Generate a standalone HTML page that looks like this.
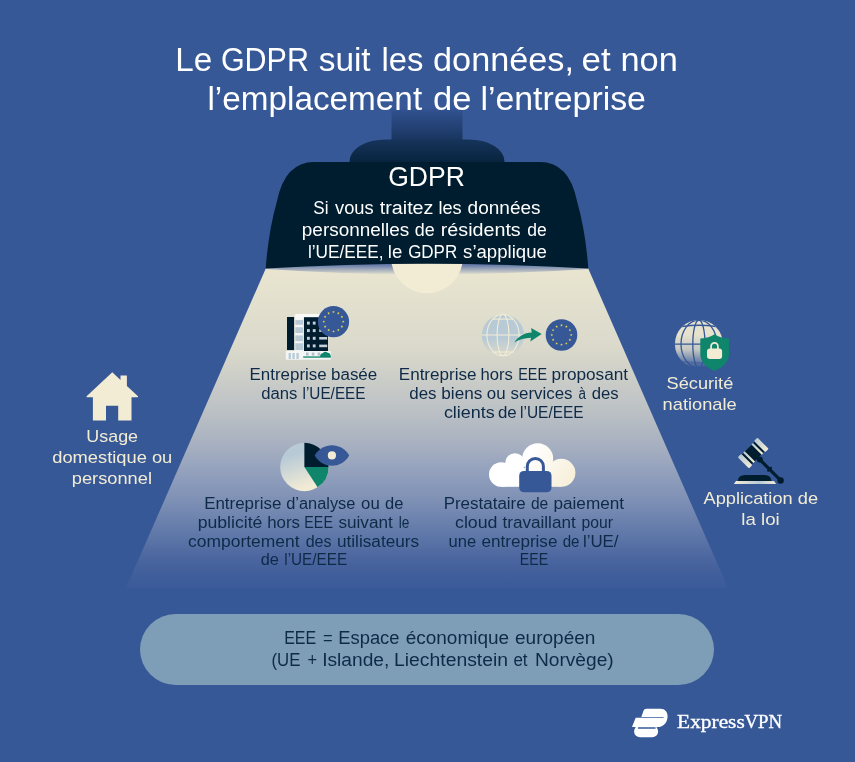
<!DOCTYPE html>
<html lang="fr"><head><meta charset="utf-8"><title>Le GDPR suit les données</title>
<style>
html,body{margin:0;padding:0;background:#365897;}
body{width:855px;height:762px;overflow:hidden;font-family:"Liberation Sans",sans-serif;}
svg{display:block;position:absolute;left:0;top:0;will-change:transform;}
text{white-space:pre;}
</style></head><body>
<svg width="855" height="762" viewBox="0 0 855 762">
<rect width="855" height="762" fill="#365897"/>
<defs>
<linearGradient id="cone" x1="0" y1="268" x2="0" y2="588" gradientUnits="userSpaceOnUse">
<stop offset="0" stop-color="#e9e5d0"/>
<stop offset="0.25" stop-color="#dad9cb"/>
<stop offset="0.45" stop-color="#bbc0c4"/>
<stop offset="0.55" stop-color="#a8b1c1"/>
<stop offset="0.6625" stop-color="#8d9cbb"/>
<stop offset="0.725" stop-color="#7e90b5"/>
<stop offset="0.7875" stop-color="#6c82ae"/>
<stop offset="0.85" stop-color="#5b74a7"/>
<stop offset="0.9125" stop-color="#4a659f"/>
<stop offset="0.96" stop-color="#405e9b"/>
<stop offset="1" stop-color="#3a5a99"/>
</linearGradient>
<linearGradient id="stem" x1="0" y1="108" x2="0" y2="140" gradientUnits="userSpaceOnUse">
<stop offset="0" stop-color="#365897"/><stop offset="0.12" stop-color="#2f4f8c"/><stop offset="1" stop-color="#19355f"/>
</linearGradient>
<linearGradient id="cap" x1="0" y1="139" x2="0" y2="163" gradientUnits="userSpaceOnUse">
<stop offset="0" stop-color="#17345c"/><stop offset="1" stop-color="#07233d"/>
</linearGradient>
<linearGradient id="inner" x1="0" y1="262" x2="0" y2="275" gradientUnits="userSpaceOnUse">
<stop offset="0" stop-color="#3f5c9c"/><stop offset="1" stop-color="#e9e5d0"/>
</linearGradient>
</defs>
<rect x="391.5" y="106" width="71" height="40" fill="url(#stem)"/>
<path d="M349.5 165 V161.4 A36 22 0 0 1 385.5 139.4 H468.5 A36 22 0 0 1 504.5 161.4 V165 Z" fill="url(#cap)"/>
<path d="M266 268 L588 268 L728 588 L126 588 Z" fill="url(#cone)"/>
<path d="M266 268 Q427 256 588 268 L588 269 Q427 280 266 269 Z" fill="url(#inner)"/>
<circle cx="427" cy="257.3" r="36" fill="#f3ecd5"/>
<path d="M265.7 268.5 Q268.3 232 277 201 Q285 162 314 162 H540 Q569 162 577 201 Q585.7 232 588.3 268.5 Q427 259 265.7 268.5 Z" fill="#001d2f"/>
<rect x="140" y="614" width="574" height="71" rx="35.5" fill="#7e9db7"/>
<text y="70.9" font-size="33" fill="#ffffff" font-family="'Liberation Sans', sans-serif" ><tspan x="175.35" textLength="36.99" lengthAdjust="spacingAndGlyphs">Le</tspan> <tspan x="220.90" textLength="88.06" lengthAdjust="spacingAndGlyphs">GDPR</tspan> <tspan x="318.72" textLength="51.92" lengthAdjust="spacingAndGlyphs">suit</tspan> <tspan x="381.49" textLength="41.89" lengthAdjust="spacingAndGlyphs">les</tspan> <tspan x="433.07" textLength="140.95" lengthAdjust="spacingAndGlyphs">données,</tspan> <tspan x="581.55" textLength="29.11" lengthAdjust="spacingAndGlyphs">et</tspan> <tspan x="620.49" textLength="57.36" lengthAdjust="spacingAndGlyphs">non</tspan></text>
<text y="110.1" font-size="33" fill="#ffffff" font-family="'Liberation Sans', sans-serif" ><tspan x="207.46" textLength="214.69" lengthAdjust="spacingAndGlyphs">l’emplacement</tspan> <tspan x="432.96" textLength="38.43" lengthAdjust="spacingAndGlyphs">de</tspan> <tspan x="480.42" textLength="165.53" lengthAdjust="spacingAndGlyphs">l’entreprise</tspan></text>
<text x="388.20" y="186.0" font-size="28" fill="#ffffff" textLength="76.61" lengthAdjust="spacingAndGlyphs" font-family="'Liberation Sans', sans-serif" >GDPR</text>
<text y="213.9" font-size="18" fill="#ffffff" font-family="'Liberation Sans', sans-serif" ><tspan x="313.29" textLength="15.18" lengthAdjust="spacingAndGlyphs">Si</tspan> <tspan x="335.00" textLength="38.66" lengthAdjust="spacingAndGlyphs">vous</tspan> <tspan x="379.73" textLength="53.76" lengthAdjust="spacingAndGlyphs">traitez</tspan> <tspan x="438.47" textLength="23.17" lengthAdjust="spacingAndGlyphs">les</tspan> <tspan x="467.61" textLength="73.00" lengthAdjust="spacingAndGlyphs">données</tspan></text>
<text y="235.8" font-size="18" fill="#ffffff" font-family="'Liberation Sans', sans-serif" ><tspan x="301.82" textLength="107.39" lengthAdjust="spacingAndGlyphs">personnelles</tspan> <tspan x="414.85" textLength="19.92" lengthAdjust="spacingAndGlyphs">de</tspan> <tspan x="440.77" textLength="79.96" lengthAdjust="spacingAndGlyphs">résidents</tspan> <tspan x="527.27" textLength="19.48" lengthAdjust="spacingAndGlyphs">de</tspan></text>
<text y="258.1" font-size="18" fill="#ffffff" font-family="'Liberation Sans', sans-serif" ><tspan x="307.92" textLength="75.54" lengthAdjust="spacingAndGlyphs">l’UE/EEE,</tspan> <tspan x="387.84" textLength="14.45" lengthAdjust="spacingAndGlyphs">le</tspan> <tspan x="408.17" textLength="49.04" lengthAdjust="spacingAndGlyphs">GDPR</tspan> <tspan x="463.08" textLength="83.76" lengthAdjust="spacingAndGlyphs">s’applique</tspan></text>
<text y="379.7" font-size="16" fill="#0e2a47" font-family="'Liberation Sans', sans-serif" ><tspan x="249.58" textLength="77.13" lengthAdjust="spacingAndGlyphs">Entreprise</tspan> <tspan x="331.04" textLength="46.19" lengthAdjust="spacingAndGlyphs">basée</tspan></text>
<text y="399.2" font-size="16" fill="#0e2a47" font-family="'Liberation Sans', sans-serif" ><tspan x="261.35" textLength="36.11" lengthAdjust="spacingAndGlyphs">dans</tspan> <tspan x="302.54" textLength="63.00" lengthAdjust="spacingAndGlyphs">l’UE/EEE</tspan></text>
<text y="379.7" font-size="16" fill="#0e2a47" font-family="'Liberation Sans', sans-serif" ><tspan x="398.77" textLength="77.75" lengthAdjust="spacingAndGlyphs">Entreprise</tspan> <tspan x="480.56" textLength="32.36" lengthAdjust="spacingAndGlyphs">hors</tspan> <tspan x="518.28" textLength="28.80" lengthAdjust="spacingAndGlyphs">EEE</tspan> <tspan x="551.63" textLength="76.42" lengthAdjust="spacingAndGlyphs">proposant</tspan></text>
<text y="398.8" font-size="16" fill="#0e2a47" font-family="'Liberation Sans', sans-serif" ><tspan x="409.34" textLength="27.24" lengthAdjust="spacingAndGlyphs">des</tspan> <tspan x="441.33" textLength="41.01" lengthAdjust="spacingAndGlyphs">biens</tspan> <tspan x="486.84" textLength="18.76" lengthAdjust="spacingAndGlyphs">ou</tspan> <tspan x="510.60" textLength="61.98" lengthAdjust="spacingAndGlyphs">services</tspan> <tspan x="578.48" textLength="7.44" lengthAdjust="spacingAndGlyphs">à</tspan> <tspan x="591.75" textLength="26.92" lengthAdjust="spacingAndGlyphs">des</tspan></text>
<text y="418.2" font-size="16" fill="#0e2a47" font-family="'Liberation Sans', sans-serif" ><tspan x="443.90" textLength="50.94" lengthAdjust="spacingAndGlyphs">clients</tspan> <tspan x="497.94" textLength="18.77" lengthAdjust="spacingAndGlyphs">de</tspan> <tspan x="520.03" textLength="63.62" lengthAdjust="spacingAndGlyphs">l’UE/EEE</tspan></text>
<text y="508.9" font-size="16" fill="#0e2a47" font-family="'Liberation Sans', sans-serif" ><tspan x="204.18" textLength="77.13" lengthAdjust="spacingAndGlyphs">Entreprise</tspan> <tspan x="286.16" textLength="69.26" lengthAdjust="spacingAndGlyphs">d’analyse</tspan> <tspan x="361.14" textLength="18.65" lengthAdjust="spacingAndGlyphs">ou</tspan> <tspan x="385.06" textLength="18.34" lengthAdjust="spacingAndGlyphs">de</tspan></text>
<text y="528.0" font-size="16" fill="#0e2a47" font-family="'Liberation Sans', sans-serif" ><tspan x="197.70" textLength="64.68" lengthAdjust="spacingAndGlyphs">publicité</tspan> <tspan x="267.15" textLength="32.78" lengthAdjust="spacingAndGlyphs">hors</tspan> <tspan x="304.28" textLength="28.69" lengthAdjust="spacingAndGlyphs">EEE</tspan> <tspan x="338.40" textLength="54.38" lengthAdjust="spacingAndGlyphs">suivant</tspan> <tspan x="398.84" textLength="10.66" lengthAdjust="spacingAndGlyphs">le</tspan></text>
<text y="546.9" font-size="16" fill="#0e2a47" font-family="'Liberation Sans', sans-serif" ><tspan x="188.02" textLength="111.50" lengthAdjust="spacingAndGlyphs">comportement</tspan> <tspan x="305.67" textLength="25.88" lengthAdjust="spacingAndGlyphs">des</tspan> <tspan x="336.93" textLength="82.19" lengthAdjust="spacingAndGlyphs">utilisateurs</tspan></text>
<text y="565.4" font-size="16" fill="#0e2a47" font-family="'Liberation Sans', sans-serif" ><tspan x="260.76" textLength="18.12" lengthAdjust="spacingAndGlyphs">de</tspan> <tspan x="284.24" textLength="62.90" lengthAdjust="spacingAndGlyphs">l’UE/EEE</tspan></text>
<text y="508.9" font-size="16" fill="#0e2a47" font-family="'Liberation Sans', sans-serif" ><tspan x="443.68" textLength="81.98" lengthAdjust="spacingAndGlyphs">Prestataire</tspan> <tspan x="530.89" textLength="17.26" lengthAdjust="spacingAndGlyphs">de</tspan> <tspan x="553.43" textLength="70.65" lengthAdjust="spacingAndGlyphs">paiement</tspan></text>
<text y="528.0" font-size="16" fill="#0e2a47" font-family="'Liberation Sans', sans-serif" ><tspan x="455.01" textLength="42.51" lengthAdjust="spacingAndGlyphs">cloud</tspan> <tspan x="502.47" textLength="73.24" lengthAdjust="spacingAndGlyphs">travaillant</tspan> <tspan x="581.62" textLength="31.43" lengthAdjust="spacingAndGlyphs">pour</tspan></text>
<text y="546.9" font-size="16" fill="#0e2a47" font-family="'Liberation Sans', sans-serif" ><tspan x="448.56" textLength="27.66" lengthAdjust="spacingAndGlyphs">une</tspan> <tspan x="481.53" textLength="75.86" lengthAdjust="spacingAndGlyphs">entreprise</tspan> <tspan x="562.71" textLength="16.83" lengthAdjust="spacingAndGlyphs">de</tspan> <tspan x="582.95" textLength="35.55" lengthAdjust="spacingAndGlyphs">l’UE/</tspan></text>
<text x="519.79" y="565.4" font-size="16" fill="#0e2a47" textLength="28.38" lengthAdjust="spacingAndGlyphs" font-family="'Liberation Sans', sans-serif" >EEE</text>
<text x="86.39" y="441.5" font-size="17" fill="#f3ecd5" textLength="51.69" lengthAdjust="spacingAndGlyphs" font-family="'Liberation Sans', sans-serif" >Usage</text>
<text x="52.23" y="462.8" font-size="17" fill="#f3ecd5" textLength="120.08" lengthAdjust="spacingAndGlyphs" font-family="'Liberation Sans', sans-serif" >domestique ou</text>
<text x="71.72" y="483.6" font-size="17" fill="#f3ecd5" textLength="80.30" lengthAdjust="spacingAndGlyphs" font-family="'Liberation Sans', sans-serif" >personnel</text>
<text x="666.60" y="389.0" font-size="17" fill="#f3ecd5" textLength="66.70" lengthAdjust="spacingAndGlyphs" font-family="'Liberation Sans', sans-serif" >Sécurité</text>
<text x="662.59" y="409.6" font-size="17" fill="#f3ecd5" textLength="74.12" lengthAdjust="spacingAndGlyphs" font-family="'Liberation Sans', sans-serif" >nationale</text>
<text x="703.50" y="504.0" font-size="17" fill="#f3ecd5" textLength="114.53" lengthAdjust="spacingAndGlyphs" font-family="'Liberation Sans', sans-serif" >Application de</text>
<text x="741.36" y="524.5" font-size="17" fill="#f3ecd5" textLength="38.39" lengthAdjust="spacingAndGlyphs" font-family="'Liberation Sans', sans-serif" >la loi</text>
<text y="643.9" font-size="18" fill="#0e2a47" font-family="'Liberation Sans', sans-serif" ><tspan x="284.18" textLength="32.00" lengthAdjust="spacingAndGlyphs">EEE</tspan> <tspan x="323.10" textLength="9.61" lengthAdjust="spacingAndGlyphs">=</tspan> <tspan x="338.30" textLength="61.21" lengthAdjust="spacingAndGlyphs">Espace</tspan> <tspan x="405.71" textLength="103.43" lengthAdjust="spacingAndGlyphs">économique</tspan> <tspan x="515.01" textLength="80.43" lengthAdjust="spacingAndGlyphs">européen</tspan></text>
<text y="666.0" font-size="18" fill="#0e2a47" font-family="'Liberation Sans', sans-serif" ><tspan x="271.47" textLength="28.93" lengthAdjust="spacingAndGlyphs">(UE</tspan> <tspan x="307.40" textLength="9.61" lengthAdjust="spacingAndGlyphs">+</tspan> <tspan x="322.17" textLength="67.18" lengthAdjust="spacingAndGlyphs">Islande,</tspan> <tspan x="394.02" textLength="114.05" lengthAdjust="spacingAndGlyphs">Liechtenstein</tspan> <tspan x="513.39" textLength="14.14" lengthAdjust="spacingAndGlyphs">et</tspan> <tspan x="534.94" textLength="78.76" lengthAdjust="spacingAndGlyphs">Norvège)</tspan></text>
<text y="728.3" font-size="19" fill="#ffffff" font-family="'Liberation Serif', serif" stroke="#ffffff" stroke-width="0.35"><tspan x="677.14" textLength="67.60" lengthAdjust="spacingAndGlyphs">Express</tspan><tspan x="744.38" textLength="37.60" lengthAdjust="spacingAndGlyphs">VPN</tspan></text>
<defs>
<linearGradient id="pieg" x1="0" y1="0" x2="0.35" y2="1"><stop offset="0.3" stop-color="#b8cad6"/><stop offset="1" stop-color="#f3ecd5"/></linearGradient>
<linearGradient id="globe1" x1="0" y1="314" x2="0" y2="356" gradientUnits="userSpaceOnUse"><stop offset="0.58" stop-color="#b8cad6"/><stop offset="0.97" stop-color="#b8cad6" stop-opacity="0"/></linearGradient>
<linearGradient id="globe2" x1="0" y1="320" x2="0" y2="368" gradientUnits="userSpaceOnUse"><stop offset="0.3" stop-color="#e6e2ce"/><stop offset="0.62" stop-color="#e6e2ce" stop-opacity="0.8"/><stop offset="1" stop-color="#e6e2ce" stop-opacity="0"/></linearGradient>
<linearGradient id="cloudg" x1="525" y1="462" x2="570" y2="490" gradientUnits="userSpaceOnUse"><stop offset="0" stop-color="#ffffff"/><stop offset="1" stop-color="#f6eed6"/></linearGradient>
<linearGradient id="capg" x1="0" y1="0" x2="0" y2="1"><stop offset="0" stop-color="#b8cad6"/><stop offset="1" stop-color="#f3ecd5"/></linearGradient>
<linearGradient id="plateg" x1="0" y1="0" x2="1" y2="0"><stop offset="0" stop-color="#f3ecd5"/><stop offset="0.6" stop-color="#b8cad6"/><stop offset="1" stop-color="#f3ecd5"/></linearGradient>
<clipPath id="g2clip"><circle cx="698.9" cy="344" r="24"/></clipPath>
<clipPath id="g1clip"><circle cx="503" cy="335" r="21"/></clipPath>
</defs>
<g>
<rect x="294.6" y="314.3" width="8.9" height="45" fill="#f4f6f6"/>
<rect x="295.3" y="320.1" width="7.8" height="4.7" fill="#b8cad6"/>
<rect x="295.3" y="327.2" width="7.8" height="5.8" fill="#b8cad6"/>
<rect x="295.3" y="335.4" width="7.8" height="5.8" fill="#b8cad6"/>
<rect x="295.3" y="343.2" width="7.8" height="6.8" fill="#b8cad6"/>
<rect x="296" y="314" width="23.5" height="3.6" fill="#f8f9f8"/>
<rect x="287" y="317" width="7.1" height="33" fill="#001d2f"/>
<rect x="304" y="317.2" width="24" height="35" fill="#001d2f"/>
<rect x="307.0" y="321.6" width="2.8" height="3" fill="#c3d0da"/>
<rect x="312.8" y="321.6" width="2.8" height="3" fill="#c3d0da"/>
<rect x="319.2" y="321.8" width="8" height="2.6" fill="#c3d0da"/>
<rect x="307.0" y="329.1" width="2.8" height="3" fill="#c3d0da"/>
<rect x="312.8" y="329.1" width="2.8" height="3" fill="#c3d0da"/>
<rect x="319.2" y="329.3" width="8" height="2.6" fill="#c3d0da"/>
<rect x="307.0" y="336.8" width="2.8" height="3" fill="#c3d0da"/>
<rect x="312.8" y="336.8" width="2.8" height="3" fill="#c3d0da"/>
<rect x="319.2" y="337.0" width="8" height="2.6" fill="#c3d0da"/>
<rect x="307.0" y="344.4" width="2.8" height="3" fill="#c3d0da"/>
<rect x="312.8" y="344.4" width="2.8" height="3" fill="#c3d0da"/>
<rect x="319.2" y="344.6" width="8" height="2.6" fill="#c3d0da"/>
<rect x="285.8" y="351" width="45" height="8.7" fill="#f4f6f6"/>
<rect x="288.6" y="353" width="2.3" height="6" fill="#b8cad6"/><rect x="292.4" y="353" width="2.3" height="6" fill="#b8cad6"/><rect x="296.4" y="353" width="2.3" height="6" fill="#b8cad6"/>
<rect x="306" y="352.6" width="2.6" height="3" fill="#b3c0cc"/>
<rect x="311.8" y="352.6" width="2.6" height="3" fill="#b3c0cc"/>
<rect x="317.6" y="352.6" width="2.6" height="3" fill="#b3c0cc"/>
<path d="M320 357 Q320 353.5 323 353 Q325 350.6 327.3 352.6 Q330.8 353 330.8 357 Z" fill="#0f866c"/>
<rect x="303.2" y="356.4" width="27.6" height="1.3" fill="#0f866c"/>
<circle cx="333.5" cy="321.7" r="15.6" fill="#365897"/>
<polygon points="333.50,310.55 333.86,311.51 334.88,311.55 334.08,312.19 334.35,313.17 333.50,312.61 332.65,313.17 332.92,312.19 332.12,311.55 333.14,311.51" fill="#e6d54c"/>
<polygon points="338.35,311.85 338.71,312.81 339.73,312.85 338.93,313.49 339.20,314.47 338.35,313.91 337.50,314.47 337.77,313.49 336.97,312.85 337.99,312.81" fill="#e6d54c"/>
<polygon points="341.90,315.40 342.26,316.36 343.28,316.40 342.48,317.04 342.75,318.02 341.90,317.46 341.05,318.02 341.32,317.04 340.52,316.40 341.54,316.36" fill="#e6d54c"/>
<polygon points="343.20,320.25 343.56,321.21 344.58,321.25 343.78,321.89 344.05,322.87 343.20,322.31 342.35,322.87 342.62,321.89 341.82,321.25 342.84,321.21" fill="#e6d54c"/>
<polygon points="341.90,325.10 342.26,326.06 343.28,326.10 342.48,326.74 342.75,327.72 341.90,327.16 341.05,327.72 341.32,326.74 340.52,326.10 341.54,326.06" fill="#e6d54c"/>
<polygon points="338.35,328.65 338.71,329.61 339.73,329.65 338.93,330.29 339.20,331.27 338.35,330.71 337.50,331.27 337.77,330.29 336.97,329.65 337.99,329.61" fill="#e6d54c"/>
<polygon points="333.50,329.95 333.86,330.91 334.88,330.95 334.08,331.59 334.35,332.57 333.50,332.01 332.65,332.57 332.92,331.59 332.12,330.95 333.14,330.91" fill="#e6d54c"/>
<polygon points="328.65,328.65 329.01,329.61 330.03,329.65 329.23,330.29 329.50,331.27 328.65,330.71 327.80,331.27 328.07,330.29 327.27,329.65 328.29,329.61" fill="#e6d54c"/>
<polygon points="325.10,325.10 325.46,326.06 326.48,326.10 325.68,326.74 325.95,327.72 325.10,327.16 324.25,327.72 324.52,326.74 323.72,326.10 324.74,326.06" fill="#e6d54c"/>
<polygon points="323.80,320.25 324.16,321.21 325.18,321.25 324.38,321.89 324.65,322.87 323.80,322.31 322.95,322.87 323.22,321.89 322.42,321.25 323.44,321.21" fill="#e6d54c"/>
<polygon points="325.10,315.40 325.46,316.36 326.48,316.40 325.68,317.04 325.95,318.02 325.10,317.46 324.25,318.02 324.52,317.04 323.72,316.40 324.74,316.36" fill="#e6d54c"/>
<polygon points="328.65,311.85 329.01,312.81 330.03,312.85 329.23,313.49 329.50,314.47 328.65,313.91 327.80,314.47 328.07,313.49 327.27,312.85 328.29,312.81" fill="#e6d54c"/>
</g>
<g>
<circle cx="503" cy="335.4" r="21.1" fill="url(#globe1)"/>
<g fill="none" stroke="#f3ecd5" stroke-width="1.1"><ellipse cx="503" cy="335.1" rx="16.1" ry="20.7"/><ellipse cx="503" cy="335.1" rx="5.9" ry="20.7"/><path d="M482 335 H524"/><path d="M492.6 319.1 H513.6"/><path d="M492 352 H514"/></g>
<path d="M514.2 342.4 C518 337 524 332.7 531.7 332.5 L531.1 327.9 L541.7 334.1 L530.3 341.5 L531 337.7 C525 337.8 519 339.6 514.2 342.4 Z" fill="#0f866c"/>
<circle cx="561.5" cy="335" r="15.8" fill="#365897"/>
<polygon points="561.50,323.85 561.86,324.81 562.88,324.85 562.08,325.49 562.35,326.47 561.50,325.91 560.65,326.47 560.92,325.49 560.12,324.85 561.14,324.81" fill="#e6d54c"/>
<polygon points="566.35,325.15 566.71,326.11 567.73,326.15 566.93,326.79 567.20,327.77 566.35,327.21 565.50,327.77 565.77,326.79 564.97,326.15 565.99,326.11" fill="#e6d54c"/>
<polygon points="569.90,328.70 570.26,329.66 571.28,329.70 570.48,330.34 570.75,331.32 569.90,330.76 569.05,331.32 569.32,330.34 568.52,329.70 569.54,329.66" fill="#e6d54c"/>
<polygon points="571.20,333.55 571.56,334.51 572.58,334.55 571.78,335.19 572.05,336.17 571.20,335.61 570.35,336.17 570.62,335.19 569.82,334.55 570.84,334.51" fill="#e6d54c"/>
<polygon points="569.90,338.40 570.26,339.36 571.28,339.40 570.48,340.04 570.75,341.02 569.90,340.46 569.05,341.02 569.32,340.04 568.52,339.40 569.54,339.36" fill="#e6d54c"/>
<polygon points="566.35,341.95 566.71,342.91 567.73,342.95 566.93,343.59 567.20,344.57 566.35,344.01 565.50,344.57 565.77,343.59 564.97,342.95 565.99,342.91" fill="#e6d54c"/>
<polygon points="561.50,343.25 561.86,344.21 562.88,344.25 562.08,344.89 562.35,345.87 561.50,345.31 560.65,345.87 560.92,344.89 560.12,344.25 561.14,344.21" fill="#e6d54c"/>
<polygon points="556.65,341.95 557.01,342.91 558.03,342.95 557.23,343.59 557.50,344.57 556.65,344.01 555.80,344.57 556.07,343.59 555.27,342.95 556.29,342.91" fill="#e6d54c"/>
<polygon points="553.10,338.40 553.46,339.36 554.48,339.40 553.68,340.04 553.95,341.02 553.10,340.46 552.25,341.02 552.52,340.04 551.72,339.40 552.74,339.36" fill="#e6d54c"/>
<polygon points="551.80,333.55 552.16,334.51 553.18,334.55 552.38,335.19 552.65,336.17 551.80,335.61 550.95,336.17 551.22,335.19 550.42,334.55 551.44,334.51" fill="#e6d54c"/>
<polygon points="553.10,328.70 553.46,329.66 554.48,329.70 553.68,330.34 553.95,331.32 553.10,330.76 552.25,331.32 552.52,330.34 551.72,329.70 552.74,329.66" fill="#e6d54c"/>
<polygon points="556.65,325.15 557.01,326.11 558.03,326.15 557.23,326.79 557.50,327.77 556.65,327.21 555.80,327.77 556.07,326.79 555.27,326.15 556.29,326.11" fill="#e6d54c"/>
</g>
<g>
<circle cx="304.4" cy="467" r="24.2" fill="url(#pieg)"/>
<path d="M304.4 467 L304.4 442.8 A24.2 24.2 0 0 1 328.6 467 Z" fill="#001d2f"/>
<path d="M304.4 467 L328.6 467 A24.2 24.2 0 0 1 317.6 487.3 Z" fill="#0f866c"/>
<path d="M314.7 455.4 C322.5 441.7 341.5 441.7 349.2 455.4 C341.5 469.1 322.5 469.1 314.7 455.4 Z" fill="#365897"/>
<circle cx="331.9" cy="455.4" r="4.1" fill="#f3ecd5"/>
</g>
<g>
<g fill="url(#cloudg)"><circle cx="501.3" cy="474.5" r="12.3"/><circle cx="515" cy="463" r="9.8"/><circle cx="537.7" cy="458.8" r="15.5"/><circle cx="561.4" cy="472.8" r="14"/><rect x="501.3" y="468" width="60.1" height="18.8"/></g>
<rect x="519.2" y="471" width="32.3" height="21.3" rx="4.6" fill="#365897"/>
<path d="M527.3 473 V466.5 A8.05 8.05 0 0 1 543.4 466.5 V473" fill="none" stroke="#365897" stroke-width="3"/>
</g>
<g>
<circle cx="698.9" cy="344" r="24" fill="url(#globe2)"/>
<g fill="none" stroke="#365897" stroke-width="1.3" clip-path="url(#g2clip)"><ellipse cx="698.9" cy="344" rx="17.9" ry="24"/><ellipse cx="698.9" cy="344" rx="6.1" ry="24"/><path d="M674 344.2 H724"/><path d="M682 326.5 Q698.9 324 716 326.5"/><path d="M682 361.5 Q698.9 364 716 361.5" stroke-opacity="0.5"/></g>
<path d="M714.5 334.3 Q708.5 338.6 700.3 338.4 V354 Q700.3 364.5 714.5 371 Q729 364.5 729 354 V338.4 Q720.5 338.6 714.5 334.3 Z" fill="#0f866c"/>
<rect x="707" y="348.4" width="15.1" height="10.6" rx="3" fill="#f3ecd5"/>
<path d="M711.1 349.5 V346.3 A3.4 3.4 0 0 1 717.9 346.3 V349.5" fill="none" stroke="#f3ecd5" stroke-width="1.7"/>
</g>
<g>
<path d="M737.8 481.2 Q738.3 475 745 475 H764.5 Q771 475 771.5 481.2 Z" fill="#001d2f"/>
<path d="M736 481 H774 L776.2 484 H733.8 Z" fill="url(#plateg)"/>
<path d="M758.6 458.4 L780.6 480.4" stroke="#001d2f" stroke-width="3.1" stroke-linecap="round"/>
<circle cx="780.6" cy="480.5" r="3.2" fill="#001d2f"/>
<circle cx="759.8" cy="459.6" r="3" fill="#001d2f"/>
<path d="M768.2 470.6 L771 467.8" stroke="#001d2f" stroke-width="2.2" stroke-linecap="round"/>
<g transform="translate(753.2 453) rotate(-45)">
<rect x="-9.4" y="-7" width="18.8" height="14" fill="#001d2f"/>
<rect x="-7" y="-7.3" width="2.3" height="14.6" fill="url(#capg)"/><rect x="4.7" y="-7.3" width="2.3" height="14.6" fill="url(#capg)"/>
<rect x="-13.9" y="-7.9" width="4.8" height="15.8" rx="1" fill="url(#capg)"/><rect x="9.1" y="-7.9" width="4.8" height="15.8" rx="1" fill="url(#capg)"/>
</g>
</g>
<path d="M112.3 372.2 L120.5 380 V375.4 H126.9 V386 L138 396.2 Q138.4 397.2 137.4 397.2 H131.5 V420.6 H118.2 V405.8 H106 V420.6 H92.9 V397.2 H87.2 Q86.2 397.2 86.6 396.2 Z" fill="#f3ecd5"/>
<g fill="#ffffff">
<path d="M646.2 708.8 H660.5 C665 708.8 667.6 712.2 667.6 716.2 C667.6 722.3 663.5 727.1 657.5 727.1 H632 L635.7 717.75 H663 L664.2 717.4 L663 717.05 H641.3 L643.6 710.6 Q644.3 708.8 646.2 708.8 Z"/>
<rect x="634.1" y="725.5" width="24" height="11.7" rx="5.8"/>
</g>
<path d="M638.5 727.9 H655" stroke="#365897" stroke-width="1.5" stroke-linecap="round"/>
</svg>
</body></html>
